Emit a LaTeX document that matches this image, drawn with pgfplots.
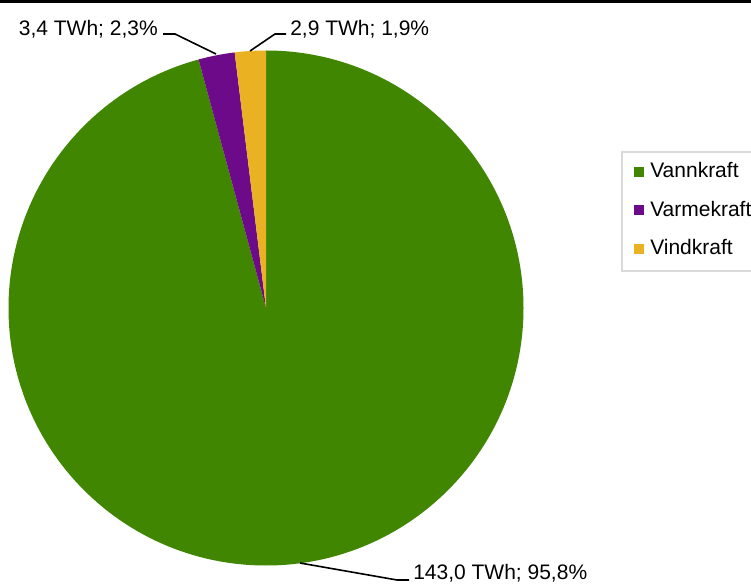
\documentclass[border=0pt]{standalone}
\usepackage{pgfplots}
\usepackage{pgfplotstable}
\pgfplotsset{compat=1.18}
\usepackage{fontspec}
\setmainfont{Liberation Sans}

\definecolor{vann}{RGB}{64,134,0}
\definecolor{varme}{RGB}{108,10,138}
\definecolor{vind}{RGB}{234,178,34}
\definecolor{legframe}{RGB}{217,217,217}

% Produksjon etter kilde (TWh)
\pgfplotstableread{
kilde      twh   andel
Vannkraft  143.0 95.8
Varmekraft 3.4   2.3
Vindkraft  2.9   1.9
}\produksjon

\pgfplotstablegetelem{0}{twh}\of\produksjon \let\vA\pgfplotsretval
\pgfplotstablegetelem{1}{twh}\of\produksjon \let\vB\pgfplotsretval
\pgfplotstablegetelem{2}{twh}\of\produksjon \let\vC\pgfplotsretval
\pgfmathsetmacro{\total}{\vA+\vB+\vC}
% slices run clockwise from twelve o'clock
\pgfmathsetmacro{\aA}{90-360*(\vA/\total)}
\pgfmathsetmacro{\aB}{\aA-360*(\vB/\total)}
\pgfmathsetmacro{\aC}{\aB-360*(\vC/\total)}

\begin{document}
\begin{tikzpicture}
\useasboundingbox (0,0) rectangle (563.25pt,437.25pt);
\clip (0,0) rectangle (563.25pt,437.25pt);
\begin{axis}[
  x=0.75pt, y=0.75pt,
  xmin=0, xmax=751, ymin=0, ymax=583,
  scale only axis, hide axis, clip=false,
  at={(0,0)}, anchor=south west,
]
\fill[white] (axis cs:0,0) rectangle (axis cs:751,583);
\fill[black] (axis cs:0,580) rectangle (axis cs:751,583);

% pie, centre (266,275), radius 257.5
\fill[vann]  (axis cs:266,275) -- ++(90:193.125pt) arc[start angle=90, end angle=\aA, radius=193.125pt] -- cycle;
\fill[varme] (axis cs:266,275) -- ++(\aA:193.125pt) arc[start angle=\aA, end angle=\aB, radius=193.125pt] -- cycle;
\fill[vind]  (axis cs:266,275) -- ++(\aB:193.125pt) arc[start angle=\aB, end angle=\aC, radius=193.125pt] -- cycle;

% data labels with leader lines
\begin{scope}[font=\fontsize{15.75}{18}\selectfont]
\draw[black, line width=1.2pt] (axis cs:163,549) -- (axis cs:175,549) -- (axis cs:216,529);
\node[anchor=base east, inner sep=0pt] at (axis cs:158,547) {3,4 TWh; 2,3\%};
\draw[black, line width=1.2pt] (axis cs:250,532) -- (axis cs:275,549) -- (axis cs:286,549);
\node[anchor=base west, inner sep=0pt] at (axis cs:290,547) {2,9 TWh; 1,9\%};
\draw[black, line width=1.2pt] (axis cs:300,20) -- (axis cs:397,3) -- (axis cs:409,3);
\node[anchor=base west, inner sep=0pt] at (axis cs:413,3.2) {143,0 TWh; 95,8\%};

% legend
\draw[legframe, line width=1.5pt] (axis cs:622,431) rectangle (axis cs:770,312);
\fill[vann]  (axis cs:634,406) rectangle (axis cs:644,416);
\node[anchor=base west, inner sep=0pt] at (axis cs:650,405) {Vannkraft};
\fill[varme] (axis cs:634,367.5) rectangle (axis cs:644,377.5);
\node[anchor=base west, inner sep=0pt] at (axis cs:650,366.5) {Varmekraft};
\fill[vind]  (axis cs:634,329) rectangle (axis cs:644,339);
\node[anchor=base west, inner sep=0pt] at (axis cs:650,328) {Vindkraft};
\end{scope}
\end{axis}
\end{tikzpicture}
\end{document}
